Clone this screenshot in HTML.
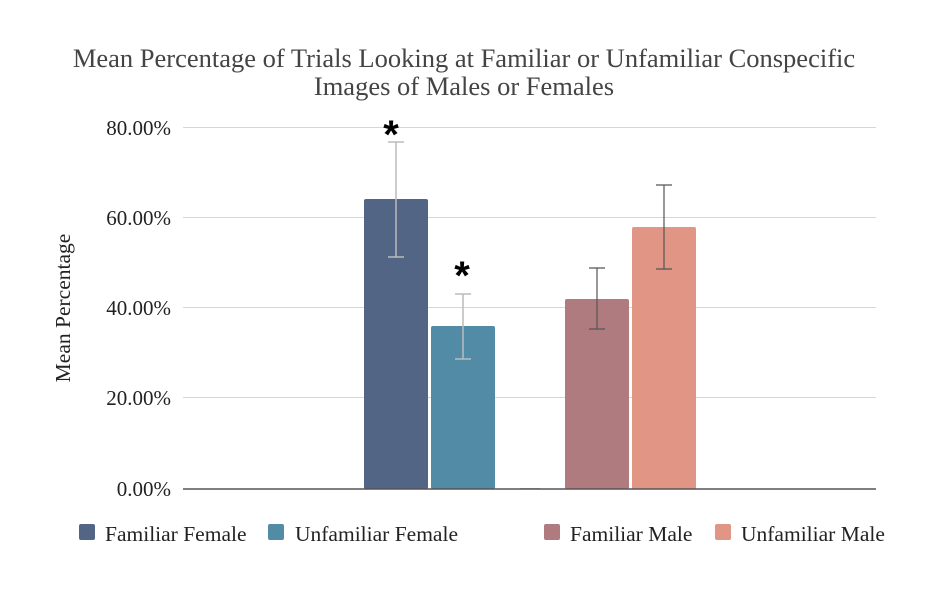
<!DOCTYPE html>
<html><head><meta charset="utf-8"><style>body{margin:0;background:#fff}svg{display:block}</style></head><body>
<svg width="930" height="600" viewBox="0 0 930 600" xmlns="http://www.w3.org/2000/svg" font-family="Liberation Serif, serif">
<rect width="930" height="600" fill="#fff"/>
<text x="464" y="67" font-size="26.5" text-anchor="middle" fill="#444">Mean Percentage of Trials Looking at Familiar or Unfamiliar Conspecific</text>
<text x="464" y="95" font-size="26.5" text-anchor="middle" fill="#444">Images of Males or Females</text>
<g stroke="#d6d6d6" stroke-width="1">
<line x1="183" x2="876" y1="127.5" y2="127.5"/><line x1="183" x2="876" y1="217.5" y2="217.5"/>
<line x1="183" x2="876" y1="307.5" y2="307.5"/><line x1="183" x2="876" y1="397.5" y2="397.5"/>
</g>
<g font-size="21" text-anchor="end" fill="#222">
<text x="171" y="135">80.00%</text><text x="171" y="225">60.00%</text><text x="171" y="315">40.00%</text><text x="171" y="405">20.00%</text><text x="171" y="496">0.00%</text>
</g>
<text transform="translate(70,308) rotate(-90)" font-size="21.5" text-anchor="middle" fill="#222">Mean Percentage</text>
<rect x="364" y="199" width="64" height="290" fill="#536585" rx="2"/>
<rect x="431" y="326" width="64" height="163" fill="#528ba6" rx="2"/>
<rect x="565" y="299" width="64" height="190" fill="#b07b7f" rx="2"/>
<rect x="632" y="227" width="64" height="262" fill="#e09585" rx="2"/>
<line x1="520" x2="540" y1="488.5" y2="488.5" stroke="#bbb"/>
<line x1="183" x2="876" y1="489" y2="489" stroke="#555" stroke-width="1.5"/>
<g stroke="#bbb" stroke-width="1.5" fill="none">
<path d="M396 142V257M388 142H404M388 257H404"/>
<path d="M463 294V359M455 294H471M455 359H471"/>
</g>
<g stroke="#555" stroke-width="1.2" fill="none">
<path d="M597 268V329M589 268H605M589 329H605"/>
<path d="M664 185V269M656 185H672M656 269H672"/>
</g>
<g font-size="40" font-weight="bold" font-family="Liberation Sans, sans-serif" text-anchor="middle" fill="#000">
<text x="391" y="148">*</text><text x="462" y="289">*</text>
</g>
<g font-size="21.5" fill="#222">
<rect x="79" y="524" width="16" height="16" fill="#536585" rx="2"/><text x="105" y="541">Familiar Female</text>
<rect x="268" y="524" width="16" height="16" fill="#528ba6" rx="2"/><text x="295" y="541">Unfamiliar Female</text>
<rect x="544" y="524" width="16" height="16" fill="#b07b7f" rx="2"/><text x="570" y="541">Familiar Male</text>
<rect x="715" y="524" width="16" height="16" fill="#e09585" rx="2"/><text x="741" y="541">Unfamiliar Male</text>
</g>
</svg>
</body></html>
